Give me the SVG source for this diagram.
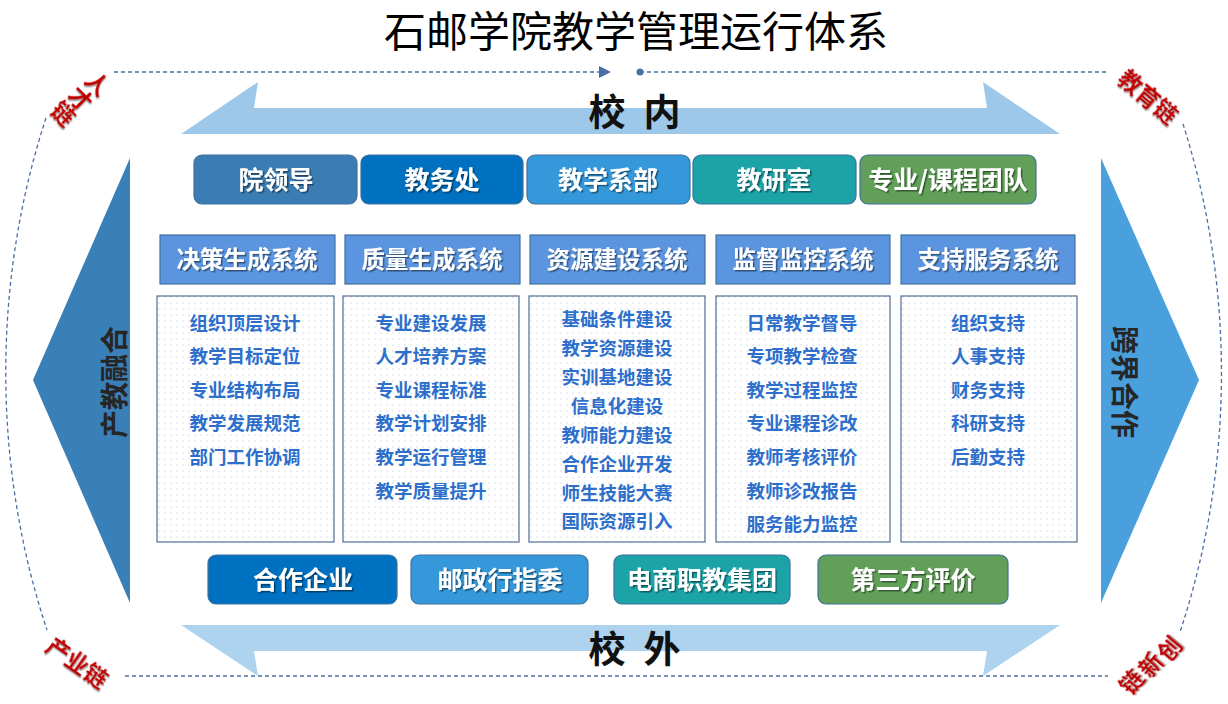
<svg xmlns="http://www.w3.org/2000/svg" width="1228" height="704" viewBox="0 0 1228 704">
<defs>
<style>
text{font-family:"Noto Sans CJK SC","Noto Sans",sans-serif;text-anchor:middle}
.title{font-size:42px;font-weight:400;fill:#000}
.big{font-size:37px;font-weight:700;fill:#111}
.side{font-size:28px;font-weight:700;fill:#262626}
.red{font-size:23px;font-weight:700;fill:#C00000;filter:url(#shg)}
.btn{font-size:25px;font-weight:700;fill:#fff;filter:url(#sh)}
.hdr{font-size:23.5px;font-weight:700;fill:#fff;filter:url(#sh)}
.item{font-size:18.5px;font-weight:700;fill:#2E6FCC}
.box{stroke:#41719C;stroke-width:1.2}
.sys{fill:#5B95E0;stroke:#41719C;stroke-width:1.2}
.cont{fill:url(#dots);stroke:#4E6E95;stroke-width:1.2}
.dash{fill:none;stroke:#4A6FA5;stroke-width:1.3;stroke-dasharray:4 3}
</style>
<filter id="sh" x="-10%" y="-20%" width="120%" height="150%"><feDropShadow dx="1.5" dy="1.5" stdDeviation="0.7" flood-color="#000" flood-opacity="0.45"/></filter>
<filter id="shg" x="-20%" y="-20%" width="140%" height="150%"><feDropShadow dx="1.2" dy="1.2" stdDeviation="0.6" flood-color="#666" flood-opacity="0.6"/></filter>
<pattern id="dots" width="6" height="6" patternUnits="userSpaceOnUse"><rect width="6" height="6" fill="#fff"/><circle cx="3" cy="3" r="0.6" fill="#A8BCD4"/></pattern>
</defs>
<rect width="1228" height="704" fill="#fff"/>

<g id="title"><text class="title" x="636" y="47">石邮学院教学管理运行体系</text></g>

<g id="connectors">
<path class="dash" d="M114,72 H600"/>
<polygon points="599,66 611,72 599,78" fill="#4A6FA5"/>
<circle cx="640" cy="72" r="3.5" fill="#4A6FA5"/>
<path class="dash" d="M640,72 H1108"/>
<path class="dash" d="M125,676 H1108"/>
<path class="dash" d="M46,118 A611,713 0 0 0 47,630"/>
<path class="dash" d="M1183,124 A609,713 0 0 1 1180,632"/>
</g>

<g id="arrow-top">
<polygon points="181,134 258,82 254,108 987,108 983,82 1060,134" fill="#9DC8EA"/>
<text class="big" x="607" y="126">校</text>
<text class="big" x="662" y="126">内</text>
</g>
<g id="arrow-bottom">
<polygon points="181,625 258,676 254,651 987,651 983,676 1060,625" fill="#AED3EF"/>
<text class="big" x="607" y="663">校</text>
<text class="big" x="662" y="663">外</text>
</g>
<g id="arrow-left">
<polygon points="130,158 130,603 33,380" fill="#3A80B8"/>
<text class="side" transform="translate(115,382) rotate(-90)" y="10">产教融合</text>
</g>
<g id="arrow-right">
<polygon points="1101,158 1101,603 1199,380" fill="#4AA0DD"/>
<text class="side" transform="translate(1124,382) rotate(90)" y="10">跨界合作</text>
</g>

<g id="chain-labels">
<text class="red" transform="translate(97,84) rotate(45)" y="8">人</text>
<text class="red" transform="translate(80,99) rotate(45)" y="8">才</text>
<text class="red" transform="translate(63,114) rotate(45)" y="8">链</text>
<text class="red" transform="translate(1148,97) rotate(40)" y="8">教育链</text>
<text class="red" transform="translate(77,663) rotate(35)" y="8">产业链</text>
<text class="red" transform="translate(1170,649) rotate(-50)" y="8">创</text>
<text class="red" transform="translate(1151,665) rotate(-50)" y="8">新</text>
<text class="red" transform="translate(1132,682) rotate(-50)" y="8">链</text>
</g>

<g id="top-units">
<g id="n-yuanlingdao"><rect class="box" x="194" y="155" width="163" height="49" rx="8" fill="#3A7DB5"/><text class="btn" x="276" y="189">院领导</text></g>
<g id="n-jiaowuchu"><rect class="box" x="361" y="155" width="162" height="49" rx="8" fill="#0070C0"/><text class="btn" x="442" y="189">教务处</text></g>
<g id="n-xibu"><rect class="box" x="527" y="155" width="163" height="49" rx="8" fill="#3498DB"/><text class="btn" x="608" y="189">教学系部</text></g>
<g id="n-jiaoyanshi"><rect class="box" x="693" y="155" width="163" height="49" rx="8" fill="#1BA3A8"/><text class="btn" x="774" y="189">教研室</text></g>
<g id="n-tuandui"><rect class="box" x="860" y="155" width="176" height="49" rx="8" fill="#62A05A"/><text class="btn" x="948" y="189">专业/课程团队</text></g>
</g>

<g id="sys-decision">
<rect class="sys" x="160" y="235" width="175" height="49"/><text class="hdr" x="247" y="268">决策生成系统</text>
<rect class="cont" x="157" y="296" width="177" height="246"/>
<text class="item" x="245" y="330">组织顶层设计</text>
<text class="item" x="245" y="363">教学目标定位</text>
<text class="item" x="245" y="397">专业结构布局</text>
<text class="item" x="245" y="430">教学发展规范</text>
<text class="item" x="245" y="464">部门工作协调</text>
</g>
<g id="sys-quality">
<rect class="sys" x="345" y="235" width="175" height="49"/><text class="hdr" x="432" y="268">质量生成系统</text>
<rect class="cont" x="343" y="296" width="176" height="246"/>
<text class="item" x="431" y="330">专业建设发展</text>
<text class="item" x="431" y="363">人才培养方案</text>
<text class="item" x="431" y="397">专业课程标准</text>
<text class="item" x="431" y="430">教学计划安排</text>
<text class="item" x="431" y="464">教学运行管理</text>
<text class="item" x="431" y="498">教学质量提升</text>
</g>
<g id="sys-resource">
<rect class="sys" x="530" y="235" width="175" height="49"/><text class="hdr" x="617" y="268">资源建设系统</text>
<rect class="cont" x="529" y="296" width="176" height="246"/>
<text class="item" x="617" y="326">基础条件建设</text>
<text class="item" x="617" y="355">教学资源建设</text>
<text class="item" x="617" y="384">实训基地建设</text>
<text class="item" x="617" y="413">信息化建设</text>
<text class="item" x="617" y="442">教师能力建设</text>
<text class="item" x="617" y="471">合作企业开发</text>
<text class="item" x="617" y="500">师生技能大赛</text>
<text class="item" x="617" y="528">国际资源引入</text>
</g>
<g id="sys-supervise">
<rect class="sys" x="716" y="235" width="174" height="49"/><text class="hdr" x="803" y="268">监督监控系统</text>
<rect class="cont" x="716" y="296" width="174" height="246"/>
<text class="item" x="802" y="330">日常教学督导</text>
<text class="item" x="802" y="363">专项教学检查</text>
<text class="item" x="802" y="397">教学过程监控</text>
<text class="item" x="802" y="430">专业课程诊改</text>
<text class="item" x="802" y="464">教师考核评价</text>
<text class="item" x="802" y="498">教师诊改报告</text>
<text class="item" x="802" y="531">服务能力监控</text>
</g>
<g id="sys-support">
<rect class="sys" x="901" y="235" width="174" height="49"/><text class="hdr" x="988" y="268">支持服务系统</text>
<rect class="cont" x="901" y="296" width="176" height="246"/>
<text class="item" x="988" y="330">组织支持</text>
<text class="item" x="988" y="363">人事支持</text>
<text class="item" x="988" y="397">财务支持</text>
<text class="item" x="988" y="430">科研支持</text>
<text class="item" x="988" y="464">后勤支持</text>
</g>

<g id="bottom-units">
<g id="n-hezuoqiye"><rect class="box" x="208" y="555" width="189" height="49" rx="8" fill="#0070C0"/><text class="btn" x="303" y="589">合作企业</text></g>
<g id="n-youzheng"><rect class="box" x="411" y="555" width="177" height="49" rx="8" fill="#3498DB"/><text class="btn" x="500" y="589">邮政行指委</text></g>
<g id="n-dianshang"><rect class="box" x="614" y="555" width="176" height="49" rx="8" fill="#1BA3A8"/><text class="btn" x="702" y="589">电商职教集团</text></g>
<g id="n-disanfang"><rect class="box" x="818" y="555" width="190" height="49" rx="8" fill="#62A05A"/><text class="btn" x="913" y="589">第三方评价</text></g>
</g>
</svg>
